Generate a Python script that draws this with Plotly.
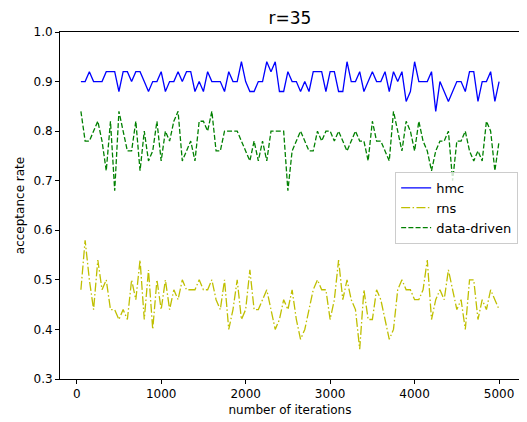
import plotly.graph_objects as go

# iteraciones (cada 50) y tasas de aceptacion
iteraciones = list(range(50, 5001, 50))

hmc = [0.90, 0.90, 0.92, 0.90, 0.90, 0.90, 0.92, 0.92, 0.92, 0.88,
       0.92, 0.92, 0.90, 0.92, 0.92, 0.90, 0.88, 0.90, 0.90, 0.92,
       0.88, 0.90, 0.90, 0.92, 0.90, 0.92, 0.92, 0.88, 0.90, 0.88,
       0.92, 0.90, 0.90, 0.90, 0.88, 0.92, 0.90, 0.90, 0.94, 0.90,
       0.88, 0.88, 0.90, 0.90, 0.94, 0.92, 0.94, 0.88, 0.88, 0.92,
       0.90, 0.90, 0.88, 0.90, 0.88, 0.92, 0.92, 0.92, 0.88, 0.92,
       0.92, 0.88, 0.88, 0.94, 0.90, 0.90, 0.92, 0.88, 0.90, 0.92,
       0.90, 0.90, 0.92, 0.88, 0.92, 0.90, 0.92, 0.86, 0.88, 0.94,
       0.90, 0.90, 0.90, 0.92, 0.84, 0.90, 0.88, 0.86, 0.88, 0.90,
       0.90, 0.88, 0.92, 0.92, 0.86, 0.90, 0.90, 0.92, 0.86, 0.90]

rns = [0.48, 0.58, 0.50, 0.44, 0.54, 0.48, 0.50, 0.44, 0.44, 0.42,
       0.44, 0.42, 0.50, 0.46, 0.54, 0.42, 0.52, 0.40, 0.50, 0.44,
       0.50, 0.44, 0.48, 0.46, 0.50, 0.48, 0.48, 0.48, 0.50, 0.48,
       0.48, 0.50, 0.46, 0.44, 0.50, 0.40, 0.44, 0.50, 0.42, 0.44,
       0.52, 0.44, 0.44, 0.46, 0.48, 0.44, 0.40, 0.42, 0.46, 0.44,
       0.48, 0.42, 0.38, 0.40, 0.44, 0.48, 0.50, 0.48, 0.48, 0.42,
       0.46, 0.54, 0.46, 0.50, 0.46, 0.44, 0.36, 0.48, 0.42, 0.42,
       0.48, 0.46, 0.42, 0.38, 0.40, 0.48, 0.50, 0.48, 0.48, 0.46,
       0.46, 0.48, 0.54, 0.42, 0.46, 0.48, 0.46, 0.52, 0.48, 0.44,
       0.46, 0.40, 0.50, 0.50, 0.42, 0.46, 0.44, 0.48, 0.46, 0.44]

data_driven = [0.84, 0.78, 0.78, 0.80, 0.82, 0.78, 0.72, 0.82, 0.68, 0.84,
               0.80, 0.76, 0.76, 0.82, 0.72, 0.80, 0.74, 0.76, 0.82, 0.74,
               0.80, 0.78, 0.82, 0.84, 0.74, 0.76, 0.78, 0.74, 0.82, 0.82,
               0.80, 0.84, 0.76, 0.76, 0.80, 0.80, 0.80, 0.80, 0.78, 0.76,
               0.74, 0.78, 0.74, 0.78, 0.74, 0.80, 0.80, 0.80, 0.80, 0.68,
               0.76, 0.78, 0.80, 0.78, 0.76, 0.76, 0.80, 0.78, 0.80, 0.80,
               0.78, 0.80, 0.78, 0.76, 0.78, 0.80, 0.78, 0.78, 0.74, 0.82,
               0.78, 0.78, 0.76, 0.74, 0.84, 0.80, 0.76, 0.82, 0.80, 0.76,
               0.82, 0.78, 0.76, 0.72, 0.76, 0.78, 0.78, 0.80, 0.70, 0.78,
               0.78, 0.80, 0.76, 0.74, 0.76, 0.74, 0.82, 0.80, 0.72, 0.78]

FONT = "DejaVu Sans"

fig = go.Figure()
fig.add_trace(go.Scatter(x=iteraciones, y=hmc, name="hmc", mode="lines",
                         line=dict(color="#0000ff", width=1.3)))
fig.add_trace(go.Scatter(x=iteraciones, y=rns, name="rns", mode="lines",
                         line=dict(color="#bfbf00", width=1.3, dash="9px,2.4px,1.5px,2.4px")))
fig.add_trace(go.Scatter(x=iteraciones, y=data_driven, name="data-driven", mode="lines",
                         line=dict(color="#008000", width=1.3, dash="5px,2.2px")))

eje = dict(showgrid=False, zeroline=False, showline=True, linecolor="black", linewidth=1,
           mirror=True, ticks="outside", ticklen=4, tickcolor="black",
           tickfont=dict(family=FONT, size=12, color="black"))

# la pagina deja 8px de margen del body: el lienzo se achica 8px para compensar
fig.update_layout(
    width=519, height=414,
    margin=dict(l=52, r=7, t=24, b=43),
    paper_bgcolor="white", plot_bgcolor="white",
    font=dict(family=FONT, color="black"),
    title=dict(text="r=35", xref="paper", x=0.5, xanchor="center", y=0.976, yanchor="middle",
               font=dict(family=FONT, size=17, color="black")),
    xaxis=dict(**eje, range=[-197.5, 5247.5], tickvals=[0, 1000, 2000, 3000, 4000, 5000],
               title=dict(text="number of iterations", font=dict(family=FONT, size=12), standoff=5)),
    yaxis=dict(**eje, range=[0.3, 1.0], dtick=0.1, tickformat=".1f",
               title=dict(text="acceptance rate", font=dict(family=FONT, size=12), standoff=6)),
    legend=dict(x=0.996, xanchor="right", y=0.597, yanchor="top",
                bgcolor="rgba(255,255,255,0.8)", bordercolor="#cccccc", borderwidth=1,
                font=dict(family=FONT, size=13, color="black"), itemwidth=30,
                tracegroupgap=0),
    showlegend=True,
)

fig.write_html("out.html")
